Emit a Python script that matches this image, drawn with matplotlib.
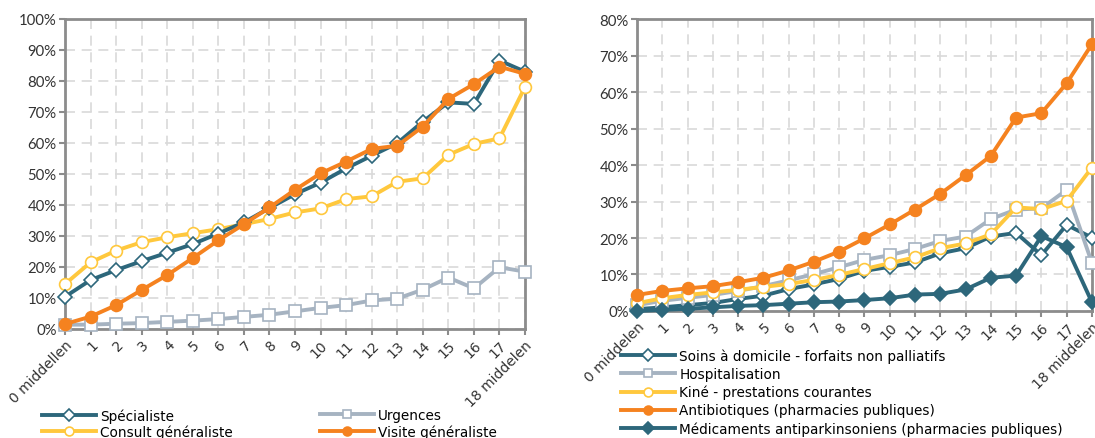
import numpy as np
import matplotlib.pyplot as plt
from matplotlib.ticker import PercentFormatter

# categories (same for both panels, only the end labels differ)
cats = list(range(19))
labels_left = ['0 middellen'] + [str(i) for i in range(1, 18)] + ['18 middelen']
labels_right = ['0 middelen'] + [str(i) for i in range(1, 18)] + ['18 middelen']

# left panel (%)
specialiste = [10.4, 15.8, 19.0, 21.9, 24.6, 27.4, 30.8, 34.4, 39.0, 43.5,
               47.2, 51.8, 55.9, 59.9, 66.9, 73.1, 72.6, 86.6, 83.0]
urgences = [1.4, 1.4, 1.7, 1.9, 2.3, 2.7, 3.2, 3.9, 4.6, 5.7,
            6.8, 7.7, 9.2, 9.8, 12.7, 16.6, 13.1, 19.9, 18.5]
consult = [14.5, 21.5, 25.3, 28.0, 29.6, 30.9, 32.2, 33.8, 35.5, 37.6,
           38.9, 41.9, 42.8, 47.5, 48.6, 56.2, 59.7, 61.5, 78.1]
visite = [1.6, 4.0, 7.7, 12.6, 17.4, 22.9, 28.6, 33.8, 39.2, 44.9,
          50.2, 54.0, 58.1, 59.1, 65.3, 74.2, 79.0, 84.6, 82.3]

# right panel (%)
soins = [0.5, 1.0, 1.6, 2.2, 3.3, 4.2, 6.0, 7.3, 8.8, 11.0,
         12.1, 13.3, 15.8, 17.2, 20.4, 21.4, 15.3, 23.6, 20.1]
hospit = [1.6, 2.8, 3.6, 4.4, 5.5, 6.8, 8.4, 10.1, 12.0, 14.0,
          15.3, 17.0, 19.2, 20.4, 25.2, 27.8, 28.1, 33.2, 13.2]
kine = [2.1, 3.5, 4.4, 5.1, 5.8, 6.6, 7.4, 8.5, 9.9, 11.5,
        13.1, 14.7, 17.2, 18.5, 21.0, 28.4, 27.9, 30.2, 39.3]
antibio = [4.4, 5.5, 6.2, 6.8, 7.9, 9.1, 11.1, 13.5, 16.3, 19.9,
           23.7, 27.8, 32.1, 37.2, 42.5, 53.0, 54.2, 62.4, 73.1]
parkinson = [0.0, 0.3, 0.6, 1.0, 1.4, 1.6, 2.0, 2.4, 2.6, 3.0,
             3.5, 4.5, 4.7, 5.9, 9.1, 9.7, 20.5, 17.5, 2.4]

TEAL = '#2D677B'
GREY = '#A6B3C1'
YELLOW = '#FFC83D'
ORANGE = '#F5821F'

plt.rcParams['font.family'] = ['Lato', 'DejaVu Sans']

fig = plt.figure(figsize=(10.95, 4.39), dpi=100)
ax1 = fig.add_axes([0.0594, 0.2483, 0.4201, 0.7062])
ax2 = fig.add_axes([0.5817, 0.2893, 0.4155, 0.6651])


def style(ax, top, labels):
    ax.set_xlim(0, 18)
    ax.set_ylim(0, top)
    ax.set_xticks(cats)
    ax.set_xticklabels(labels, rotation=45, ha='right', rotation_mode='anchor',
                       fontsize=10, color='#333333', family=['DejaVu Sans'])
    ax.set_yticks(np.arange(0, top + 1, 10))
    ax.yaxis.set_major_formatter(PercentFormatter(decimals=0))
    ax.tick_params(axis='y', labelsize=10.7, labelcolor='#333333', length=4,
                   width=1.5, color='#8C8C8C', pad=2)
    ax.tick_params(axis='x', length=4, width=1.5, color='#8C8C8C', pad=2)
    ax.grid(True, color='#D9D9D9', linestyle=(0, (6, 4)), linewidth=1.2)
    ax.set_axisbelow(True)
    for s in ax.spines.values():
        s.set_color('#8C8C8C')
        s.set_linewidth(2)


def line(ax, y, color, marker, filled, label, ms=8.5):
    face = color if filled else 'white'
    return ax.plot(cats, y, color=color, lw=2.8, marker=marker, ms=ms,
                   mfc=face, mec=color, mew=1.2, label=label,
                   clip_on=False, zorder=3)[0]


style(ax1, 100, labels_left)
h_urg = line(ax1, urgences, GREY, 's', False, 'Urgences', ms=8)
h_con = line(ax1, consult, YELLOW, 'o', False, 'Consult généraliste')
h_spe = line(ax1, specialiste, TEAL, 'D', False, 'Spécialiste', ms=7.5)
h_vis = line(ax1, visite, ORANGE, 'o', True, 'Visite généraliste')

style(ax2, 80, labels_right)
h_so = line(ax2, soins, TEAL, 'D', False, 'Soins à domicile - forfaits non palliatifs', ms=7.5)
h_ho = line(ax2, hospit, GREY, 's', False, 'Hospitalisation', ms=8)
h_ki = line(ax2, kine, YELLOW, 'o', False, 'Kiné - prestations courantes')
h_an = line(ax2, antibio, ORANGE, 'o', True, 'Antibiotiques (pharmacies publiques)')
h_pa = line(ax2, parkinson, TEAL, 'D', True, 'Médicaments antiparkinsoniens (pharmacies publiques)', ms=7.5)


def legend(handles, x, y, spacing):
    fig.legend(handles, [h.get_label() for h in handles], loc='upper left',
               bbox_to_anchor=(x, y), frameon=False, handlelength=4.0,
               handletextpad=0.3, borderpad=0, borderaxespad=0,
               labelspacing=spacing, numpoints=1, markerscale=0.75,
               prop={'family': ['DejaVu Sans'], 'size': 9.8})


legend([h_spe, h_con], 0.038, 0.068, 0.15)
legend([h_urg, h_vis], 0.292, 0.068, 0.15)
legend([h_so, h_ho, h_ki, h_an, h_pa], 0.567, 0.204, 0.29)

fig.savefig('out.png', dpi=100)
